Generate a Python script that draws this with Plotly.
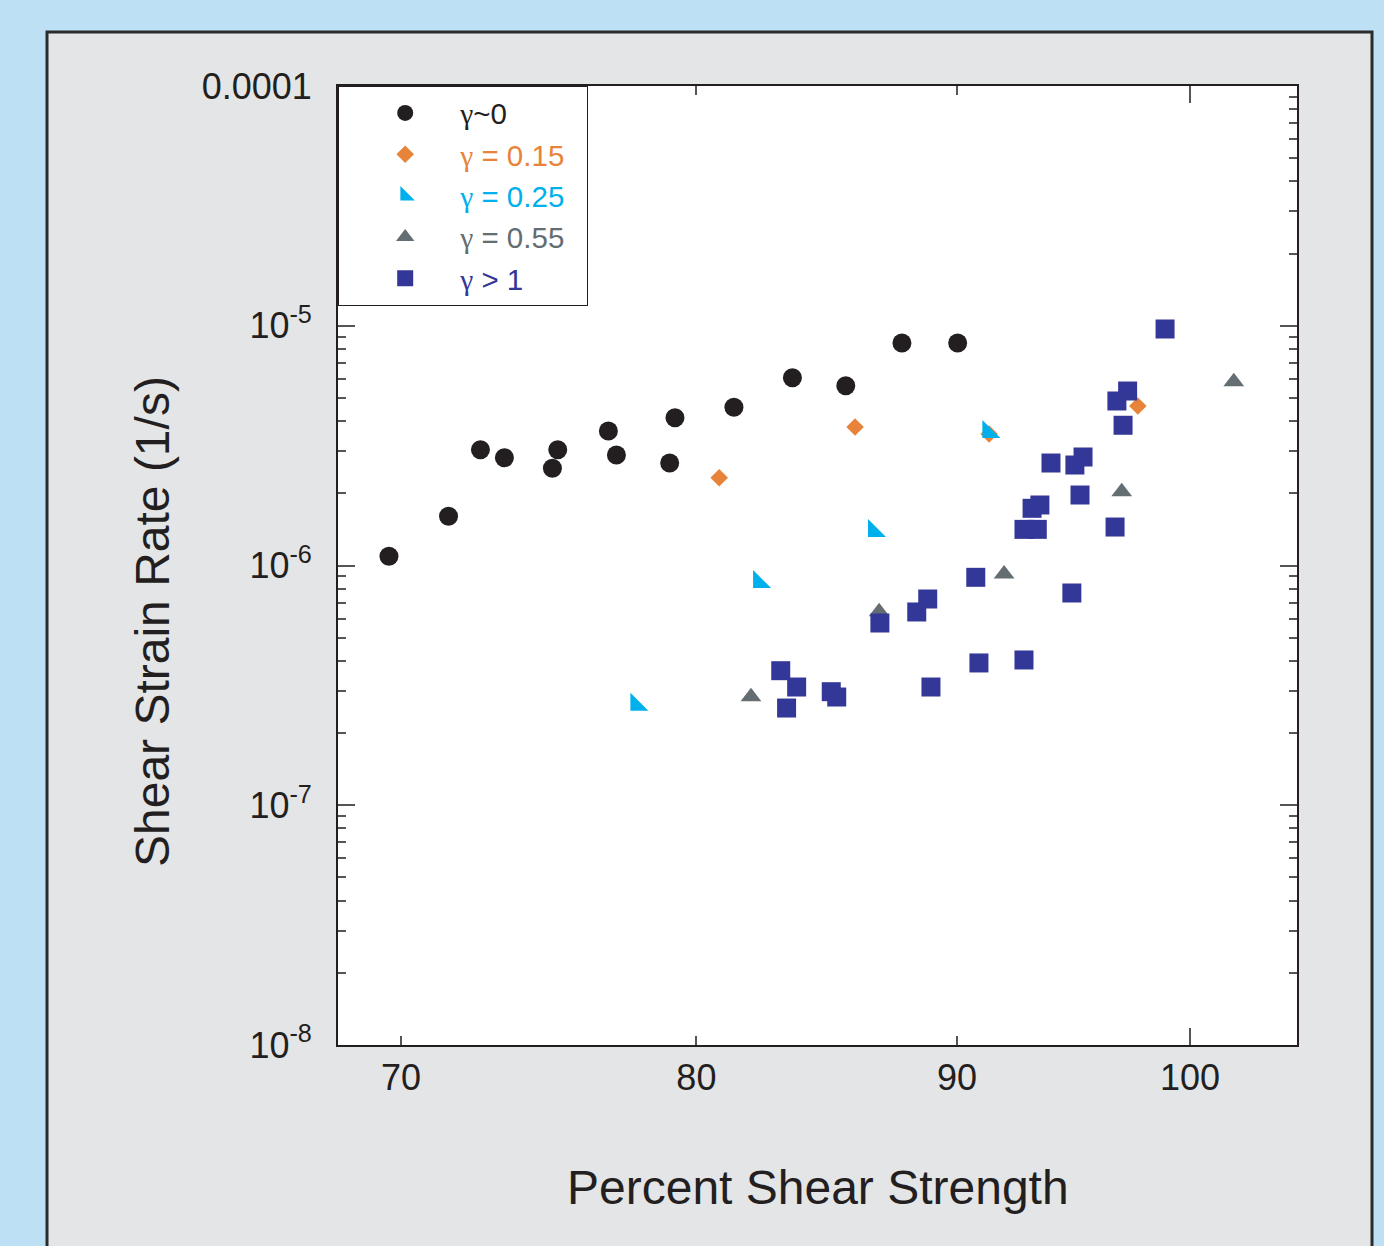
import plotly.graph_objects as go

# Percent shear strength vs. shear strain rate, grouped by shear strain gamma
circle_x = [69.62, 71.52, 72.56, 73.35, 74.96, 75.14, 76.88, 77.16, 79.04, 79.23,
            81.37, 83.55, 85.59, 87.79, 90.03]
circle_y = [1.092e-6, 1.604e-6, 3.041e-6, 2.816e-6, 2.543e-6, 3.041e-6, 3.639e-6,
            2.890e-6, 2.676e-6, 4.134e-6, 4.570e-6, 6.072e-6, 5.623e-6, 8.476e-6,
            8.476e-6]

g015_x = [80.83, 85.95, 91.32, 97.67]
g015_y = [2.323e-6, 3.783e-6, 3.536e-6, 4.627e-6]

g025_x = [77.86, 82.30, 86.69, 91.29]
g025_y = [2.627e-7, 8.537e-7, 1.393e-6, 3.605e-6]

g055_x = [82.00, 86.89, 91.94, 96.96, 102.0]
g055_y = [2.836e-7, 6.417e-7, 9.214e-7, 2.032e-6, 5.842e-6]

g1_x = [98.88, 97.22, 96.75, 97.02, 93.91, 94.93, 95.28, 95.15, 93.44, 93.11,
        92.77, 93.33, 96.67, 94.80, 90.77, 88.82, 88.38, 86.92, 90.90, 92.77,
        88.95, 83.11, 83.71, 83.33, 85.03, 85.24]
g1_y = [9.693e-6, 5.343e-6, 4.855e-6, 3.845e-6, 2.676e-6, 2.625e-6, 2.835e-6,
        1.968e-6, 1.788e-6, 1.732e-6, 1.415e-6, 1.415e-6, 1.447e-6, 7.679e-7,
        8.927e-7, 7.249e-7, 6.399e-7, 5.756e-7, 3.922e-7, 4.036e-7, 3.113e-7,
        3.641e-7, 3.113e-7, 2.544e-7, 2.976e-7, 2.828e-7]

x_ticks = [70, 80, 90, 100]
x_ticklabels = ["70", "80", "90", "100"]
y_ticks = [1e-8, 1e-7, 1e-6, 1e-5, 1e-4]
y_ticklabels = ["10<sup>-8</sup>", "10<sup>-7</sup>", "10<sup>-6</sup>",
                "10<sup>-5</sup>", "0.0001"]
y_minor = [k * 10.0 ** e for e in range(-8, -4) for k in range(2, 10)]

FONT = "Liberation Sans, Arial, Helvetica, sans-serif"
INK = "#231f20"
TICK = "#555555"
GAMMA = '<span style="font-family:Liberation Serif">γ</span>'
PAD = "&nbsp;&nbsp;"  # a little room before the legend's right border

series = [
    (circle_x, circle_y, "~0", "#231f20", "circle", 19),
    (g015_x, g015_y, " = 0.15" + PAD, "#e8833a", "diamond", 13.5),
    (g025_x, g025_y, " = 0.25" + PAD, "#00b0ec", "triangle-sw", 20),
    (g055_x, g055_y, " = 0.55" + PAD, "#646d72", "triangle-up", 18),
    (g1_x, g1_y, " > 1", "#333797", "square", 19),
]

fig = go.Figure()
for xs, ys, label, color, symbol, size in series:
    fig.add_trace(go.Scatter(
        x=xs, y=ys, mode="markers",
        name=f'<span style="color:{color}">{GAMMA}{label}</span>',
        marker=dict(symbol=symbol, size=size, color=color, line=dict(width=0)),
    ))

# helper trace so the overlay axis (long decade tick at 100) is drawn
fig.add_trace(go.Scatter(x=[], y=[], xaxis="x2", yaxis="y",
                         showlegend=False, hoverinfo="skip"))

x_range = [1.83273, 2.02101]

fig.update_layout(
    width=1384, height=1246,
    margin=dict(l=338, r=87, t=86, b=201, autoexpand=False),
    paper_bgcolor="#bee0f4",
    plot_bgcolor="white",
    font=dict(family=FONT, color=INK, size=36),
    showlegend=True,
    legend=dict(
        x=0, y=1, xanchor="left", yanchor="top",
        bgcolor="white", bordercolor=INK, borderwidth=1.2,
        font=dict(family=FONT, size=29.5, color=INK),
        itemwidth=100, indentation=11,
        itemsizing="trace",
    ),
    xaxis=dict(
        type="log", range=x_range,
        tickmode="array", tickvals=x_ticks, ticktext=x_ticklabels,
        ticks="inside", ticklen=9, tickwidth=1.5, tickcolor=TICK,
        showline=True, linecolor=INK, linewidth=1.8, mirror="ticks",
        showgrid=False, zeroline=False,
        tickfont=dict(family=FONT, size=36, color=INK),
        ticklabelstandoff=0,
    ),
    xaxis2=dict(
        type="log", range=x_range, overlaying="x", anchor="y", side="bottom",
        tickmode="array", tickvals=[100],
        ticks="inside", ticklen=17, tickwidth=1.5, tickcolor=TICK,
        showticklabels=False, showline=False, mirror="ticks",
        showgrid=False, zeroline=False,
    ),
    yaxis=dict(
        type="log", range=[-8, -4],
        tickmode="array", tickvals=y_ticks, ticktext=y_ticklabels,
        ticks="inside", ticklen=17, tickwidth=1.5, tickcolor=TICK,
        minor=dict(tickmode="array", tickvals=y_minor, ticks="inside",
                   ticklen=8, tickwidth=1.5, tickcolor=TICK),
        showline=True, linecolor=INK, linewidth=1.8, mirror="ticks",
        showgrid=False, zeroline=False,
        tickfont=dict(family=FONT, size=36, color=INK),
        ticklabelstandoff=17,
    ),
    shapes=[
        # grey panel behind the chart
        dict(type="rect", xref="paper", yref="paper",
             x0=-0.30344, x1=1.07821, y0=-0.23, y1=1.05631,
             fillcolor="#e4e5e7", line=dict(color="#2b2b2b", width=3),
             layer="below"),
        # white plotting area
        dict(type="rect", xref="paper", yref="paper",
             x0=0, x1=1, y0=0, y1=1,
             fillcolor="white", line=dict(width=0), layer="below"),
    ],
    annotations=[
        dict(text="Percent Shear Strength", xref="paper", yref="paper",
             x=0.5, y=-0.1481, xanchor="center", yanchor="middle",
             showarrow=False, font=dict(family=FONT, size=48, color=INK)),
        dict(text="Shear Strain Rate (1/s)", xref="paper", yref="paper",
             x=-0.1929, y=0.4411, xanchor="center", yanchor="middle",
             textangle=-90, showarrow=False,
             font=dict(family=FONT, size=48, color=INK)),
    ],
)

fig.write_html("out.html")
